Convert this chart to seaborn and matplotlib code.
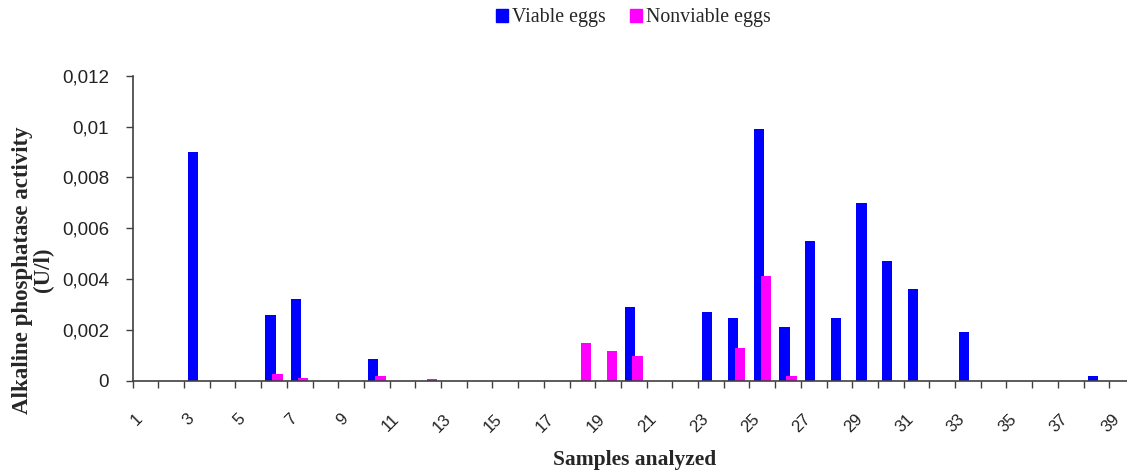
import matplotlib
matplotlib.use("Agg")
import matplotlib.pyplot as plt
import seaborn as sns
import pandas as pd

# Alkaline phosphatase activity (U/l) per sample
samples = list(range(1, 40))
viable = [0, 0, 0.009, 0, 0, 0.0026, 0.0032, 0, 0, 0.00085,
          0, 0, 0, 0, 0, 0, 0, 0, 0, 0.0029,
          0, 0, 0.0027, 0.00245, 0.0099, 0.00213, 0.0055, 0.00245, 0.007, 0.0047,
          0.0036, 0, 0.0019, 0, 0, 0, 0, 0.0002, 0]
nonviable = [0, 0, 0, 0, 0, 0.00028, 0.00012, 0, 0, 0.00017,
             0, 0.00007, 0, 0, 0, 0, 0, 0.00147, 0.00118, 0.00098,
             0, 0, 0, 0.00129, 0.00411, 0.00018, 0, 0, 0, 0,
             0, 0, 0, 0, 0, 0, 0, 0, 0]
series_names = ["Viable eggs", "Nonviable eggs"]
series_colors = ["#0000FF", "#FF00FF"]
y_ticks = [0, 0.002, 0.004, 0.006, 0.008, 0.01, 0.012]
y_tick_labels = ["0", "0,002", "0,004", "0,006", "0,008", "0,01", "0,012"]

df = pd.concat([
    pd.DataFrame({"sample": samples, "activity": viable, "group": series_names[0]}),
    pd.DataFrame({"sample": samples, "activity": nonviable, "group": series_names[1]}),
])

sns.set_theme(style="white")
plt.rcParams["font.family"] = ["Liberation Sans", "DejaVu Sans"]

fig = plt.figure(figsize=(11.27, 4.73), dpi=100)
ax = fig.add_axes([0.1177, 0.1951, 0.8894, 0.6449])

sns.barplot(data=df, x="sample", y="activity", hue="group",
            hue_order=series_names, palette=series_colors,
            width=0.56, linewidth=0, saturation=1, ax=ax, legend=False)

# slightly overlapping bars within each cluster
for bar in ax.patches:
    c = bar.get_x() + bar.get_width() / 2
    bar.set_width(0.40)
    bar.set_x(c - 0.20)

ax.set_xlim(-0.5, len(samples) - 0.5)
ax.set_ylim(0, 0.012)
ax.set_yticks(y_ticks)
ax.set_yticklabels(y_tick_labels, fontsize=13.5, color="#222222")

# ticks at category boundaries, labels on every other category
ax.set_xticks([i - 0.5 for i in range(len(samples) + 1)], minor=False)
ax.set_xticklabels([""] * (len(samples) + 1))
ax.set_xticks([i for i in range(0, len(samples), 2)], minor=True)
ax.set_xticklabels([str(samples[i]) for i in range(0, len(samples), 2)], minor=True,
                   rotation=45, ha="right", va="top", fontsize=12, color="#222222")
ax.tick_params(axis="x", which="major", direction="out", length=5, width=1.0,
               color="#404040", bottom=True)
ax.tick_params(axis="x", which="minor", length=0, pad=22, bottom=True)
ax.tick_params(axis="y", direction="out", length=5, width=1.0, color="#404040",
               pad=12, left=True)

for side in ["top", "right"]:
    ax.spines[side].set_visible(False)
for side in ["left", "bottom"]:
    ax.spines[side].set_color("#404040")
    ax.spines[side].set_linewidth(1.2)

ax.set_xlabel("")
ax.set_ylabel("")

serif = ["Liberation Serif", "DejaVu Serif"]
fig.text(0.5634, 0.027, "Samples analyzed", family=serif, fontweight="bold",
         fontsize=15.5, ha="center", va="center")
fig.text(0.029, 1 - 270 / 473, "Alkaline phosphatase activity\n(U/l)", family=serif,
         fontweight="bold", fontsize=16.5, ha="center", va="center", rotation=90,
         multialignment="center", linespacing=1.0)

handles = [plt.Rectangle((0, 0), 1, 1, color=c) for c in series_colors]
fig.legend(handles, series_names, loc="center", bbox_to_anchor=(0.562, 0.962),
           ncol=2, frameon=False, prop={"family": serif, "size": 14.3},
           handlelength=0.62, handleheight=0.62, handletextpad=0.2,
           columnspacing=1.2, borderaxespad=0)

fig.savefig("out.png", dpi=100, facecolor="white")
